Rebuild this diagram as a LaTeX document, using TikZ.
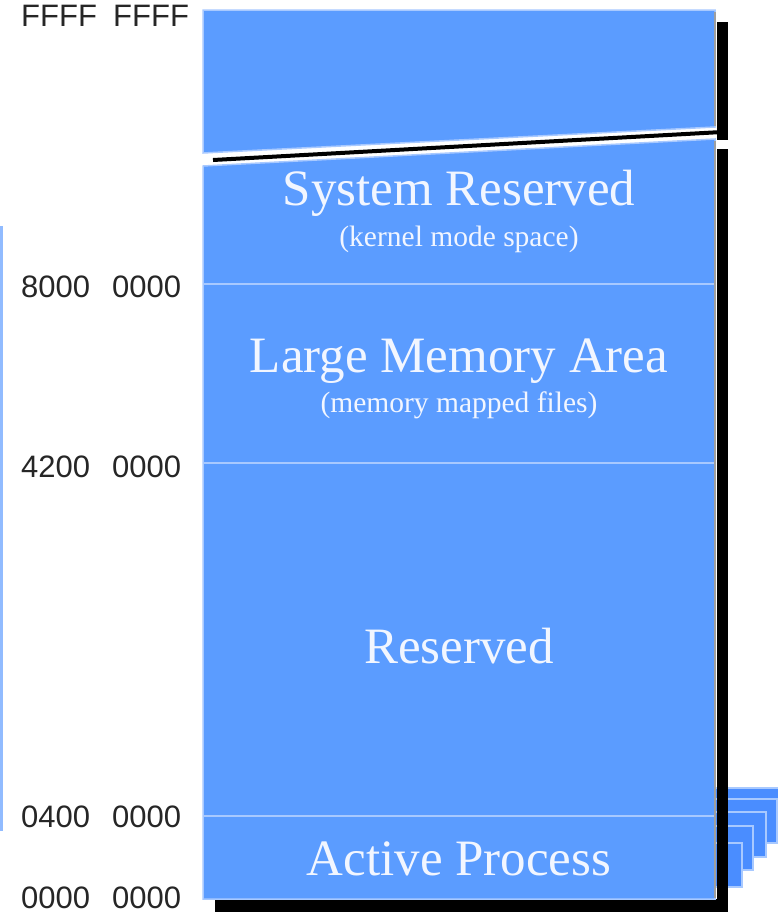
\documentclass[tikz,border=0pt]{standalone}
\usepackage{fontspec}
\setmainfont{Liberation Serif}
\newfontfamily\lblfont{Liberation Sans}
\definecolor{boxblue}{HTML}{5B9CFF}
\definecolor{edgeblue}{HTML}{A8C9FF}
\definecolor{pageblue}{HTML}{4A8DFF}
\definecolor{txtwhite}{HTML}{F2F6FF}
\definecolor{lblgray}{HTML}{262626}
\begin{document}
\begin{tikzpicture}[x=1pt,y=-1pt,
  big/.style={text=txtwhite,font=\fontsize{51}{60}\selectfont,anchor=base,inner sep=0pt},
  small/.style={text=txtwhite,font=\fontsize{29.5}{34}\selectfont,anchor=base,inner sep=0pt},
  addr/.style={text=lblgray,font=\lblfont\fontsize{31}{36}\selectfont,anchor=base west,inner sep=0pt},
  pagebox/.style={fill=pageblue,draw=edgeblue,line width=2.5pt},
  shadowbar/.style={fill=black},
  region/.style={fill=boxblue,draw=edgeblue,line width=1.5pt},
  divider/.style={draw=edgeblue,line width=2pt},
  grayedge/.style={draw=gray!75,line width=2pt}]
\useasboundingbox[fill=white] (0,0) rectangle (778,914);

% stacked pages (back to front)
\foreach \r/\t/\b in {792/788/832, 777/799/843, 766/812/857, 753/826/870, 742/843/887}
  \draw[pagebox] (700,\t) rectangle (\r,\b);

% left blue bar
\fill[edgeblue!70!boxblue] (0,226) rectangle (3,831);

% shadows
\fill[shadowbar] (717,22) rectangle (728,140);
\fill[shadowbar] (717,149) rectangle (728,912);
\fill[shadowbar] (215,899) rectangle (728,912);

% top piece
\draw[region] (203,10) -- (715,10) -- (715,127) -- (203,153) -- cycle;
% break line
\draw[line width=4pt] (213,160) -- (722,132);
% main box
\draw[region] (203,166) -- (715,139) -- (715,899) -- (203,899) -- cycle;

% gray right edges
\draw[grayedge] (714.5,12) -- (714.5,126);
\draw[grayedge] (714.5,141) -- (714.5,898);

% dividers
\draw[divider] (204,284) -- (714,284);
\draw[divider] (204,463) -- (714,463);
\draw[divider] (204,816) -- (714,816);

% region labels
\node[big] (sysres) at (459,205) {System Reserved};
\node[small] (kernel) at (459,246) {(kernel mode space)};
\node[big] (lma) at (459,372) {Large Memory Area};
\node[small] (mmf) at (459,412) {(memory mapped files)};
\node[big] (res) at (459,663) {Reserved};
\node[big] (act) at (459,875) {Active Process};

% addresses
\node[addr] (a1h) at (21,26) {FFFF};
\node[addr] (a1l) at (113,26) {FFFF};
\node[addr] (a2h) at (21,297) {8000};
\node[addr] (a2l) at (112,297) {0000};
\node[addr] (a3h) at (21,477) {4200};
\node[addr] (a3l) at (112,477) {0000};
\node[addr] (a4h) at (21,827) {0400};
\node[addr] (a4l) at (112,827) {0000};
\node[addr] (a5h) at (21,908) {0000};
\node[addr] (a5l) at (112,908) {0000};
\end{tikzpicture}
\end{document}
